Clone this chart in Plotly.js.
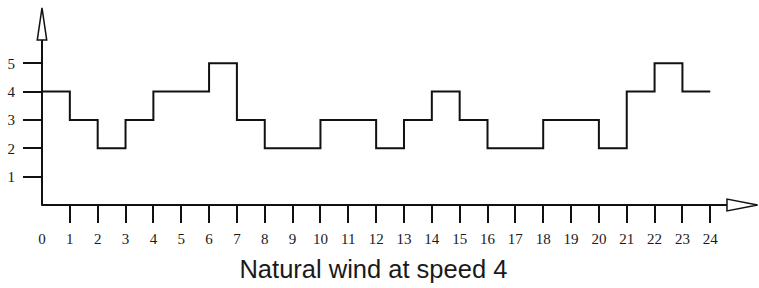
<!DOCTYPE html>
<html>
<head>
<meta charset="utf-8">
<script src="https://cdn.plot.ly/plotly-3.0.1.min.js"></script>
<style>html,body{margin:0;padding:0;background:#fff;}#chart{width:759px;height:288px;}</style>
</head>
<body>
<div id="chart"></div>
<script>
// Hour marks along the time axis and the wind speed held during each hour
const hours = [0,1,2,3,4,5,6,7,8,9,10,11,12,13,14,15,16,17,18,19,20,21,22,23,24];
const speed = [4,3,2,3,4,4,5,3,2,2,3,3,2,3,4,3,2,2,3,3,2,4,5,4,4];
const xTickVals = [1,2,3,4,5,6,7,8,9,10,11,12,13,14,15,16,17,18,19,20,21,22,23,24];
const xOriginLabel = ["0"];
const yTickVals = [1,2,3,4,5];
const chartTitle = "Natural wind at speed 4";

const X_MAX = 25.75, Y_MAX = 7.02;
const tickFont = {family: "Liberation Serif, Times New Roman, serif", size: 15, color: "#1a1a1a"};

// convert axis units to paper fractions (ranges start at 0), for decorative arrow heads
const px = v => v / X_MAX;
const py = v => v / Y_MAX;

const trace = {
  x: hours, y: speed, type: "scatter", mode: "lines",
  line: {shape: "hv", color: "#111", width: 2},
  hoverinfo: "skip", showlegend: false, cliponaxis: false
};

const shapes = [
  // y axis line
  {type: "line", xref: "paper", yref: "paper", x0: 0, x1: 0, y0: py(-0.03), y1: py(5.82), line: {color: "#111", width: 2}},
  // x axis line
  {type: "line", xref: "paper", yref: "paper", x0: 0, x1: px(24.6), y0: 0, y1: 0, line: {color: "#111", width: 2}},
  // y arrow head
  {type: "path", xref: "paper", yref: "paper",
   path: `M ${px(-0.17)} ${py(5.82)} L ${px(0.17)} ${py(5.82)} L 0 ${py(6.95)} Z`,
   fillcolor: "#fff", line: {color: "#111", width: 1.5}, layer: "above"},
  // x arrow head
  {type: "path", xref: "paper", yref: "paper",
   path: `M ${px(24.6)} ${py(0.21)} L ${px(24.6)} ${py(-0.21)} L ${px(25.7)} 0 Z`,
   fillcolor: "#fff", line: {color: "#111", width: 1.5}, layer: "above"}
];

const layout = {
  width: 759, height: 288,
  margin: {l: 42, r: 0, t: 6, b: 83},
  paper_bgcolor: "#fff", plot_bgcolor: "#fff",
  title: {text: chartTitle, font: {family: "Liberation Sans, Arial, sans-serif", size: 25.5, color: "#1a1a1a"},
          x: 0.492, xref: "container", xanchor: "center", y: 0.066, yref: "container", yanchor: "middle"},
  xaxis: {range: [0, X_MAX], tickmode: "array", tickvals: xTickVals, ticktext: xTickVals.map(String),
          ticks: "outside", ticklen: 17, tickwidth: 2, tickcolor: "#111", ticklabelstandoff: 3,
          showgrid: false, zeroline: false, showline: false, tickfont: tickFont, fixedrange: true},
  xaxis2: {range: [0, X_MAX], overlaying: "x", anchor: "y", side: "bottom",
           tickmode: "array", tickvals: [0], ticktext: xOriginLabel, ticklabelstandoff: 3,
           ticks: "outside", ticklen: 17, tickwidth: 2, tickcolor: "rgba(0,0,0,0)",
           showgrid: false, zeroline: false, showline: false, tickfont: tickFont, fixedrange: true},
  yaxis: {range: [0, Y_MAX], tickmode: "array", tickvals: yTickVals, ticktext: yTickVals.map(String),
          ticks: "outside", ticklen: 18, tickwidth: 2, tickcolor: "#111", ticklabelstandoff: 5,
          showgrid: false, zeroline: false, showline: false, tickfont: tickFont, fixedrange: true},
  shapes: shapes,
  showlegend: false
};

const helper = {x: [0], y: [0], xaxis: "x2", yaxis: "y", type: "scatter", mode: "markers",
                marker: {opacity: 0}, hoverinfo: "skip", showlegend: false};

Plotly.newPlot("chart", [trace, helper], layout, {staticPlot: true, displayModeBar: false});
</script>
</body>
</html>
